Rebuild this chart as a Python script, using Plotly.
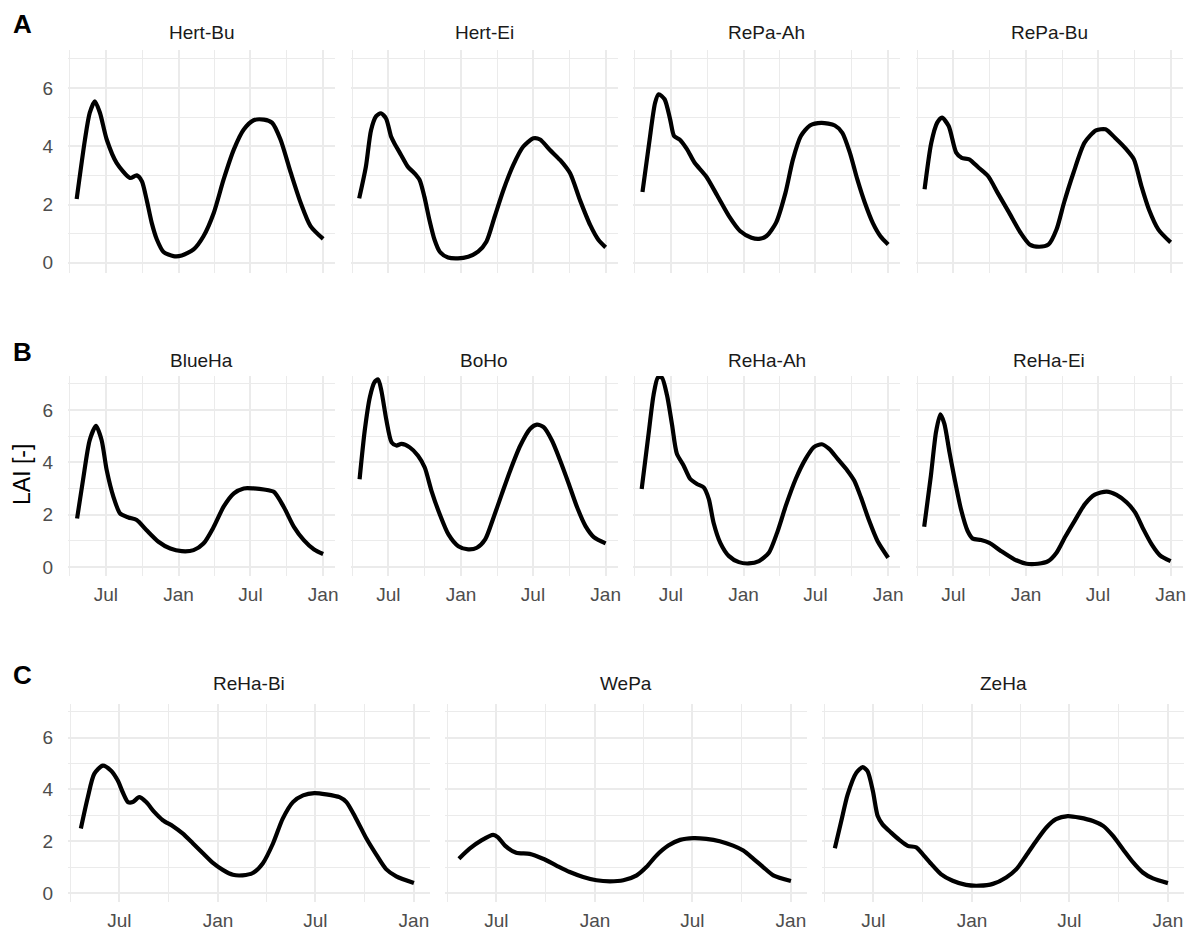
import pandas as pd
import plotly.graph_objects as go

# ---------------- data (days since ORIGIN, LAI values) ----------------
ORIGIN = "2019-07-01"

HERT_BU_DAYS = [-74, -53, -41, -28, -15, 2, 27, 61, 78, 91, 103, 116, 129, 146, 171, 192, 222, 247, 273, 298, 324, 349, 374, 400, 421, 442, 468, 493, 518, 550]
HERT_BU_LAI = [2.19, 4.23, 5.14, 5.54, 5.14, 4.23, 3.43, 2.91, 3.0, 2.8, 2.17, 1.37, 0.8, 0.37, 0.23, 0.25, 0.46, 0.91, 1.71, 2.86, 3.89, 4.57, 4.89, 4.91, 4.8, 4.23, 3.09, 2.06, 1.26, 0.82]

HERT_EI_DAYS = [-74, -57, -44, -31, -19, -6, 7, 15, 32, 49, 66, 79, 91, 104, 117, 130, 151, 176, 202, 227, 248, 269, 291, 316, 341, 367, 384, 409, 435, 460, 485, 511, 532, 550]
HERT_EI_LAI = [2.21, 3.3, 4.55, 5.03, 5.13, 4.95, 4.32, 4.1, 3.7, 3.3, 3.07, 2.84, 2.27, 1.46, 0.78, 0.38, 0.18, 0.15, 0.21, 0.38, 0.72, 1.58, 2.49, 3.35, 3.98, 4.27, 4.23, 3.87, 3.52, 3.07, 2.15, 1.29, 0.78, 0.53]

REPA_AH_DAYS = [-72, -55, -40, -31, -16, -2, 8, 22, 41, 60, 89, 118, 147, 175, 204, 223, 242, 266, 290, 309, 329, 352, 381, 415, 434, 453, 472, 491, 511, 530, 550]
REPA_AH_LAI = [2.43, 4.12, 5.49, 5.78, 5.61, 4.92, 4.35, 4.23, 3.89, 3.43, 2.97, 2.29, 1.6, 1.09, 0.86, 0.82, 0.92, 1.37, 2.4, 3.55, 4.35, 4.71, 4.8, 4.71, 4.46, 3.78, 2.86, 2.06, 1.37, 0.92, 0.63]

REPA_BU_DAYS = [-73, -56, -41, -29, -12, 7, 21, 40, 64, 88, 112, 141, 170, 193, 217, 241, 261, 280, 304, 332, 361, 385, 409, 438, 457, 476, 495, 519, 550]
REPA_BU_LAI = [2.52, 4.12, 4.81, 4.98, 4.69, 3.78, 3.6, 3.55, 3.26, 2.97, 2.4, 1.72, 1.03, 0.63, 0.55, 0.63, 1.14, 2.06, 3.09, 4.12, 4.54, 4.58, 4.29, 3.89, 3.55, 2.63, 1.83, 1.14, 0.7]

BLUEHA_DAYS = [-73, -58, -41, -25, -11, 2, 19, 36, 57, 78, 103, 133, 163, 192, 222, 247, 273, 298, 324, 349, 374, 400, 425, 450, 476, 501, 527, 550]
BLUEHA_LAI = [1.85, 3.32, 4.85, 5.39, 4.85, 3.7, 2.68, 2.04, 1.89, 1.79, 1.4, 0.96, 0.7, 0.6, 0.64, 0.89, 1.53, 2.3, 2.81, 3.0, 3.0, 2.96, 2.87, 2.3, 1.53, 1.02, 0.66, 0.49]

BOHO_DAYS = [-73, -60, -47, -35, -26, -18, -5, 8, 20, 33, 54, 75, 92, 109, 130, 152, 177, 202, 224, 245, 266, 287, 308, 334, 359, 376, 393, 414, 435, 457, 478, 499, 520, 550]
BOHO_LAI = [3.35, 5.21, 6.49, 7.07, 7.17, 6.75, 5.6, 4.76, 4.64, 4.7, 4.57, 4.25, 3.8, 2.91, 2.01, 1.24, 0.79, 0.67, 0.73, 1.05, 1.88, 2.78, 3.67, 4.64, 5.28, 5.44, 5.34, 4.83, 4.06, 3.16, 2.27, 1.56, 1.14, 0.9]

REHA_AH_DAYS = [-74, -57, -44, -33, -23, -10, 3, 15, 32, 49, 66, 83, 96, 108, 125, 147, 172, 197, 223, 248, 269, 291, 316, 341, 362, 382, 400, 422, 447, 464, 481, 502, 523, 550]
REHA_AH_LAI = [2.98, 5.03, 6.57, 7.24, 7.24, 6.57, 5.42, 4.33, 3.88, 3.36, 3.17, 3.04, 2.59, 1.69, 0.92, 0.41, 0.18, 0.13, 0.22, 0.54, 1.31, 2.34, 3.36, 4.13, 4.58, 4.69, 4.52, 4.13, 3.68, 3.3, 2.66, 1.76, 0.99, 0.35]

REHA_EI_DAYS = [-74, -57, -44, -33, -23, -10, 3, 19, 36, 49, 70, 91, 121, 155, 185, 214, 240, 261, 282, 307, 333, 358, 388, 413, 439, 460, 481, 502, 523, 550]
REHA_EI_LAI = [1.53, 3.49, 5.16, 5.83, 5.48, 4.39, 3.36, 2.21, 1.37, 1.08, 1.03, 0.92, 0.6, 0.28, 0.12, 0.12, 0.22, 0.54, 1.12, 1.76, 2.4, 2.76, 2.88, 2.75, 2.46, 2.08, 1.44, 0.86, 0.44, 0.22]

REHA_BI_DAYS = [-72, -59, -47, -31, -16, -3, 6, 16, 25, 37, 50, 65, 81, 100, 118, 137, 156, 174, 193, 212, 230, 249, 268, 287, 305, 324, 343, 364, 386, 411, 424, 442, 461, 480, 498, 517, 550]
REHA_BI_LAI = [2.49, 3.7, 4.6, 4.92, 4.73, 4.34, 3.9, 3.51, 3.51, 3.7, 3.51, 3.13, 2.81, 2.58, 2.3, 1.92, 1.53, 1.17, 0.89, 0.7, 0.68, 0.77, 1.15, 1.92, 2.87, 3.51, 3.77, 3.86, 3.81, 3.7, 3.51, 2.87, 2.11, 1.47, 0.92, 0.64, 0.38]

WEPA_DAYS = [-70, -50, -28, -6, 3, 16, 37, 62, 87, 112, 137, 162, 187, 212, 237, 262, 280, 299, 321, 343, 368, 392, 417, 442, 461, 480, 498, 517, 550]
WEPA_LAI = [1.32, 1.71, 2.03, 2.24, 2.15, 1.83, 1.55, 1.51, 1.32, 1.06, 0.81, 0.62, 0.49, 0.45, 0.49, 0.68, 1.0, 1.45, 1.83, 2.05, 2.12, 2.09, 2.0, 1.83, 1.64, 1.32, 1.0, 0.68, 0.46]

ZEHA_DAYS = [-72, -60, -48, -32, -20, -11, -1, 8, 17, 33, 49, 64, 80, 92, 108, 126, 148, 173, 198, 223, 248, 267, 285, 304, 323, 341, 363, 385, 410, 429, 447, 466, 485, 503, 522, 550]
ZEHA_LAI = [1.73, 2.78, 3.81, 4.64, 4.86, 4.71, 3.94, 2.97, 2.65, 2.33, 2.04, 1.82, 1.76, 1.5, 1.12, 0.73, 0.47, 0.31, 0.28, 0.35, 0.6, 0.92, 1.44, 2.01, 2.53, 2.85, 2.97, 2.91, 2.78, 2.59, 2.21, 1.69, 1.18, 0.79, 0.56, 0.38]

SITES = ["Hert-Bu", "Hert-Ei", "RePa-Ah", "RePa-Bu",
         "BlueHa", "BoHo", "ReHa-Ah", "ReHa-Ei",
         "ReHa-Bi", "WePa", "ZeHa"]
SERIES = [(HERT_BU_DAYS, HERT_BU_LAI), (HERT_EI_DAYS, HERT_EI_LAI),
          (REPA_AH_DAYS, REPA_AH_LAI), (REPA_BU_DAYS, REPA_BU_LAI),
          (BLUEHA_DAYS, BLUEHA_LAI), (BOHO_DAYS, BOHO_LAI),
          (REHA_AH_DAYS, REHA_AH_LAI), (REHA_EI_DAYS, REHA_EI_LAI),
          (REHA_BI_DAYS, REHA_BI_LAI), (WEPA_DAYS, WEPA_LAI),
          (ZEHA_DAYS, ZEHA_LAI)]
ROW_OF = [0, 0, 0, 0, 1, 1, 1, 1, 2, 2, 2]
COL_OF = [0, 1, 2, 3, 0, 1, 2, 3, 0, 1, 2]
ROW_LETTERS = ["A", "B", "C"]

X_TICKS = ["2019-07-01", "2020-01-01", "2020-07-01", "2021-01-01"]
X_TICKTEXT = ["Jul", "Jan", "Jul", "Jan"]
X_MINOR = ["2019-04-01", "2019-10-01", "2020-04-01", "2020-10-01"]
X_RANGE = ["2019-03-27", "2021-01-31"]
Y_TICKS = [0, 2, 4, 6]
Y_MINOR = [1, 3, 5, 7]
Y_RANGE = [-0.35, 7.3]
Y_TITLE = "LAI [-]"

# ---------------- layout geometry (pixels) ----------------
W, H = 1195, 934
ROW_Y = [(50, 273), (376, 576), (704, 902)]          # top, bottom
COL4_X = [(68, 335), (350.5, 617.5), (633, 900), (915.5, 1182.5)]
COL3_X = [(68, 430), (445, 807), (822, 1184)]
TITLE_Y = [32, 360, 683]
LETTER_Y = [24, 352, 675]

FONT = "Liberation Sans, Arial, sans-serif"
GRID = "#EBEBEB"
TICK_COLOR = "#4D4D4D"

fig = go.Figure()
origin = pd.Timestamp(ORIGIN)

annotations = []
for i, (name, (days, lai)) in enumerate(zip(SITES, SERIES)):
    k = i + 1
    r, c = ROW_OF[i], COL_OF[i]
    xs = COL3_X if r == 2 else COL4_X
    x0, x1 = xs[c]
    y0, y1 = ROW_Y[r]
    dates = origin + pd.to_timedelta(days, unit="D")
    fig.add_trace(go.Scatter(
        x=dates, y=lai, mode="lines",
        line=dict(color="black", width=4.2, shape="spline", smoothing=0.7),
        xaxis=f"x{k}", yaxis=f"y{k}", showlegend=False, hoverinfo="skip"))

    fig.update_layout({
        f"xaxis{k}": dict(
            domain=[x0 / W, x1 / W], anchor=f"y{k}", type="date",
            range=X_RANGE, tickmode="array", tickvals=X_TICKS, ticktext=X_TICKTEXT,
            showticklabels=(r != 0), ticks="", showline=False, zeroline=False,
            showgrid=True, gridcolor=GRID, gridwidth=1.8,
            minor=dict(tickvals=X_MINOR, showgrid=True, gridcolor=GRID, gridwidth=1.0, ticks=""),
            tickfont=dict(family=FONT, size=19, color=TICK_COLOR),
            ticklabelstandoff=5, automargin=False, fixedrange=True),
        f"yaxis{k}": dict(
            domain=[1 - y1 / H, 1 - y0 / H], anchor=f"x{k}",
            range=Y_RANGE, tickmode="array", tickvals=Y_TICKS,
            showticklabels=(c == 0), ticks="", showline=False, zeroline=False,
            showgrid=True, gridcolor=GRID, gridwidth=1.8,
            minor=dict(tickvals=Y_MINOR, showgrid=True, gridcolor=GRID, gridwidth=1.0, ticks=""),
            tickfont=dict(family=FONT, size=19, color=TICK_COLOR),
            ticklabelstandoff=14, automargin=False, fixedrange=True),
    })

    annotations.append(dict(
        text=name, x=(x0 + x1) / 2 / W, y=1 - TITLE_Y[r] / H,
        xref="paper", yref="paper", showarrow=False, xanchor="center", yanchor="middle",
        font=dict(family=FONT, size=19, color="#1A1A1A")))

for r, letter in enumerate(ROW_LETTERS):
    annotations.append(dict(
        text=f"<b>{letter}</b>", x=22 / W, y=1 - LETTER_Y[r] / H,
        xref="paper", yref="paper", showarrow=False, xanchor="center", yanchor="middle",
        font=dict(family=FONT, size=26, color="black")))

annotations.append(dict(
    text=Y_TITLE, x=22 / W, y=1 - 475 / H, textangle=-90,
    xref="paper", yref="paper", showarrow=False, xanchor="center", yanchor="middle",
    font=dict(family=FONT, size=23, color="black")))

fig.update_layout(
    width=W, height=H,
    margin=dict(l=0, r=0, t=0, b=0),
    paper_bgcolor="white", plot_bgcolor="white",
    annotations=annotations,
    showlegend=False,
)

# remove the default 8px page margin so the figure fills the window exactly; hide the modebar
fig.write_html(
    "out.html",
    config={"displayModeBar": False},
    post_script="document.body.style.margin='0';document.body.style.overflow='hidden';",
)
